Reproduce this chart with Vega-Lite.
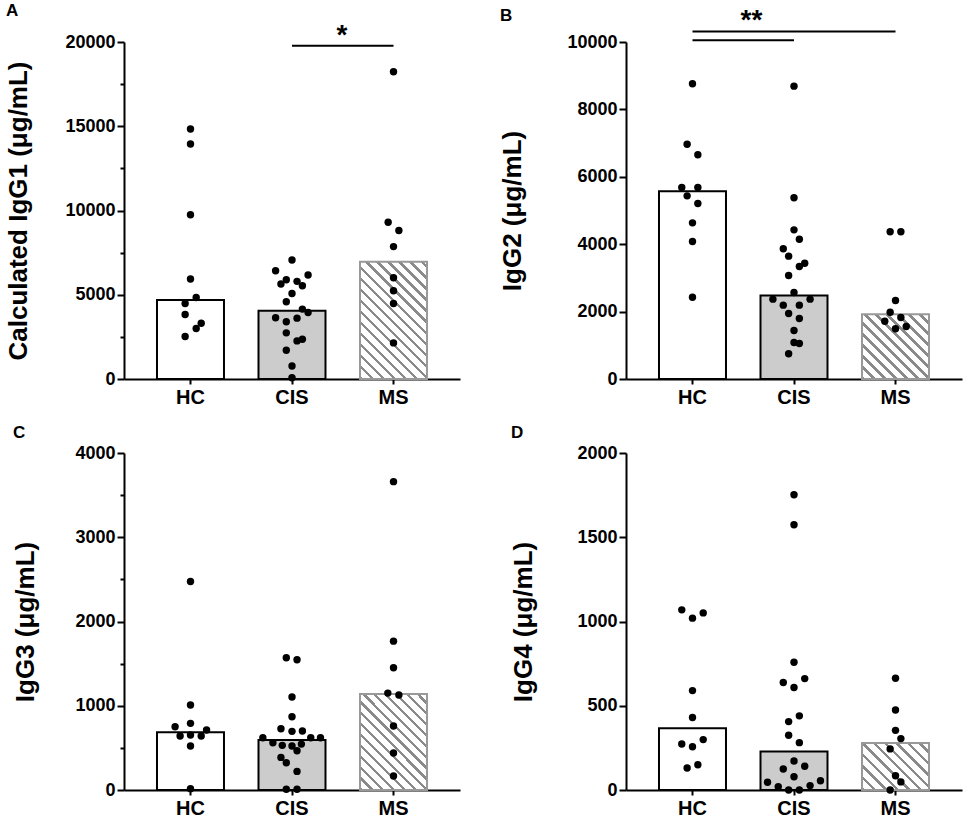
{
  "$schema": "https://vega.github.io/schema/vega-lite/v6.json",
  "background": "white",
  "padding": {"left": 5, "top": 1, "right": 5, "bottom": 0},
  "datasets": {
    "points": [
      {"panel":"A","group":"HC","value":14839,"jit":0},
      {"panel":"A","group":"HC","value":13946,"jit":0},
      {"panel":"A","group":"HC","value":9744,"jit":0},
      {"panel":"A","group":"HC","value":5933,"jit":0},
      {"panel":"A","group":"HC","value":4841,"jit":0.17},
      {"panel":"A","group":"HC","value":4484,"jit":-0.16},
      {"panel":"A","group":"HC","value":3829,"jit":-0.16},
      {"panel":"A","group":"HC","value":3313,"jit":0.32},
      {"panel":"A","group":"HC","value":2996,"jit":0.17},
      {"panel":"A","group":"HC","value":2520,"jit":-0.16},
      {"panel":"A","group":"CIS","value":7063,"jit":0},
      {"panel":"A","group":"CIS","value":6429,"jit":-0.49},
      {"panel":"A","group":"CIS","value":6171,"jit":0.48},
      {"panel":"A","group":"CIS","value":5893,"jit":-0.17},
      {"panel":"A","group":"CIS","value":5635,"jit":-0.33},
      {"panel":"A","group":"CIS","value":5794,"jit":0.15},
      {"panel":"A","group":"CIS","value":5536,"jit":0.31},
      {"panel":"A","group":"CIS","value":5079,"jit":0},
      {"panel":"A","group":"CIS","value":4583,"jit":-0.17},
      {"panel":"A","group":"CIS","value":4147,"jit":0.31},
      {"panel":"A","group":"CIS","value":3948,"jit":0.48},
      {"panel":"A","group":"CIS","value":3631,"jit":-0.49},
      {"panel":"A","group":"CIS","value":3611,"jit":0.15},
      {"panel":"A","group":"CIS","value":3393,"jit":-0.17},
      {"panel":"A","group":"CIS","value":2738,"jit":-0.17},
      {"panel":"A","group":"CIS","value":2361,"jit":0.31},
      {"panel":"A","group":"CIS","value":2262,"jit":0.15},
      {"panel":"A","group":"CIS","value":1706,"jit":-0.17},
      {"panel":"A","group":"CIS","value":774,"jit":0},
      {"panel":"A","group":"CIS","value":79,"jit":0},
      {"panel":"A","group":"MS","value":18234,"jit":0},
      {"panel":"A","group":"MS","value":9306,"jit":-0.16},
      {"panel":"A","group":"MS","value":8810,"jit":0.16},
      {"panel":"A","group":"MS","value":7857,"jit":0},
      {"panel":"A","group":"MS","value":6012,"jit":0},
      {"panel":"A","group":"MS","value":5238,"jit":0},
      {"panel":"A","group":"MS","value":4484,"jit":0},
      {"panel":"A","group":"MS","value":2143,"jit":0},
      {"panel":"B","group":"HC","value":8759,"jit":0},
      {"panel":"B","group":"HC","value":6968,"jit":-0.16},
      {"panel":"B","group":"HC","value":6652,"jit":0.16},
      {"panel":"B","group":"HC","value":5682,"jit":-0.32},
      {"panel":"B","group":"HC","value":5682,"jit":0.16},
      {"panel":"B","group":"HC","value":5435,"jit":-0.16},
      {"panel":"B","group":"HC","value":5208,"jit":0.16},
      {"panel":"B","group":"HC","value":4634,"jit":0},
      {"panel":"B","group":"HC","value":4080,"jit":0},
      {"panel":"B","group":"HC","value":2428,"jit":0},
      {"panel":"B","group":"CIS","value":8690,"jit":0},
      {"panel":"B","group":"CIS","value":5376,"jit":0},
      {"panel":"B","group":"CIS","value":4426,"jit":0},
      {"panel":"B","group":"CIS","value":4149,"jit":0.16},
      {"panel":"B","group":"CIS","value":3863,"jit":-0.32},
      {"panel":"B","group":"CIS","value":3645,"jit":-0.16},
      {"panel":"B","group":"CIS","value":3437,"jit":0.32},
      {"panel":"B","group":"CIS","value":3338,"jit":0.16},
      {"panel":"B","group":"CIS","value":3071,"jit":-0.16},
      {"panel":"B","group":"CIS","value":2567,"jit":0},
      {"panel":"B","group":"CIS","value":2369,"jit":-0.63},
      {"panel":"B","group":"CIS","value":2369,"jit":0.48},
      {"panel":"B","group":"CIS","value":2191,"jit":-0.32},
      {"panel":"B","group":"CIS","value":2191,"jit":0.16},
      {"panel":"B","group":"CIS","value":1944,"jit":-0.16},
      {"panel":"B","group":"CIS","value":1795,"jit":0.16},
      {"panel":"B","group":"CIS","value":1439,"jit":0},
      {"panel":"B","group":"CIS","value":1083,"jit":0},
      {"panel":"B","group":"CIS","value":1053,"jit":0.16},
      {"panel":"B","group":"CIS","value":747,"jit":-0.16},
      {"panel":"B","group":"MS","value":4367,"jit":-0.16},
      {"panel":"B","group":"MS","value":4367,"jit":0.16},
      {"panel":"B","group":"MS","value":2329,"jit":0},
      {"panel":"B","group":"MS","value":1983,"jit":-0.16},
      {"panel":"B","group":"MS","value":1825,"jit":0.16},
      {"panel":"B","group":"MS","value":1716,"jit":-0.32},
      {"panel":"B","group":"MS","value":1558,"jit":0.32},
      {"panel":"B","group":"MS","value":1489,"jit":0},
      {"panel":"C","group":"HC","value":2475,"jit":0},
      {"panel":"C","group":"HC","value":1008,"jit":0},
      {"panel":"C","group":"HC","value":751,"jit":-0.46},
      {"panel":"C","group":"HC","value":791,"jit":0},
      {"panel":"C","group":"HC","value":712,"jit":0.48},
      {"panel":"C","group":"HC","value":640,"jit":-0.31},
      {"panel":"C","group":"HC","value":652,"jit":0},
      {"panel":"C","group":"HC","value":640,"jit":0.32},
      {"panel":"C","group":"HC","value":522,"jit":0},
      {"panel":"C","group":"HC","value":16,"jit":0},
      {"panel":"C","group":"CIS","value":1569,"jit":-0.17},
      {"panel":"C","group":"CIS","value":1546,"jit":0.15},
      {"panel":"C","group":"CIS","value":1103,"jit":0},
      {"panel":"C","group":"CIS","value":870,"jit":0},
      {"panel":"C","group":"CIS","value":727,"jit":-0.33},
      {"panel":"C","group":"CIS","value":696,"jit":0},
      {"panel":"C","group":"CIS","value":700,"jit":0.31},
      {"panel":"C","group":"CIS","value":621,"jit":-0.87},
      {"panel":"C","group":"CIS","value":621,"jit":0.56},
      {"panel":"C","group":"CIS","value":621,"jit":0.85},
      {"panel":"C","group":"CIS","value":561,"jit":-0.57},
      {"panel":"C","group":"CIS","value":530,"jit":-0.29},
      {"panel":"C","group":"CIS","value":522,"jit":0},
      {"panel":"C","group":"CIS","value":545,"jit":0.28},
      {"panel":"C","group":"CIS","value":466,"jit":0.15},
      {"panel":"C","group":"CIS","value":387,"jit":-0.33},
      {"panel":"C","group":"CIS","value":324,"jit":-0.17},
      {"panel":"C","group":"CIS","value":221,"jit":0.15},
      {"panel":"C","group":"CIS","value":8,"jit":-0.17},
      {"panel":"C","group":"CIS","value":8,"jit":0.15},
      {"panel":"C","group":"MS","value":3660,"jit":0},
      {"panel":"C","group":"MS","value":1767,"jit":0},
      {"panel":"C","group":"MS","value":1451,"jit":0},
      {"panel":"C","group":"MS","value":1150,"jit":-0.17},
      {"panel":"C","group":"MS","value":1127,"jit":0.16},
      {"panel":"C","group":"MS","value":759,"jit":0},
      {"panel":"C","group":"MS","value":439,"jit":0},
      {"panel":"C","group":"MS","value":166,"jit":0},
      {"panel":"D","group":"HC","value":1069,"jit":-0.32},
      {"panel":"D","group":"HC","value":1020,"jit":0},
      {"panel":"D","group":"HC","value":1051,"jit":0.32},
      {"panel":"D","group":"HC","value":590,"jit":0},
      {"panel":"D","group":"HC","value":430,"jit":0},
      {"panel":"D","group":"HC","value":273,"jit":-0.32},
      {"panel":"D","group":"HC","value":257,"jit":0},
      {"panel":"D","group":"HC","value":299,"jit":0.32},
      {"panel":"D","group":"HC","value":131,"jit":-0.16},
      {"panel":"D","group":"HC","value":150,"jit":0.16},
      {"panel":"D","group":"CIS","value":1752,"jit":0},
      {"panel":"D","group":"CIS","value":1574,"jit":0},
      {"panel":"D","group":"CIS","value":758,"jit":0},
      {"panel":"D","group":"CIS","value":638,"jit":-0.32},
      {"panel":"D","group":"CIS","value":661,"jit":0.32},
      {"panel":"D","group":"CIS","value":608,"jit":0},
      {"panel":"D","group":"CIS","value":440,"jit":0.16},
      {"panel":"D","group":"CIS","value":406,"jit":-0.16},
      {"panel":"D","group":"CIS","value":325,"jit":-0.16},
      {"panel":"D","group":"CIS","value":281,"jit":0.16},
      {"panel":"D","group":"CIS","value":172,"jit":0},
      {"panel":"D","group":"CIS","value":125,"jit":-0.32},
      {"panel":"D","group":"CIS","value":141,"jit":0.32},
      {"panel":"D","group":"CIS","value":79,"jit":0},
      {"panel":"D","group":"CIS","value":46,"jit":-0.79},
      {"panel":"D","group":"CIS","value":55,"jit":0.79},
      {"panel":"D","group":"CIS","value":20,"jit":-0.47},
      {"panel":"D","group":"CIS","value":26,"jit":0.48},
      {"panel":"D","group":"CIS","value":0,"jit":-0.16},
      {"panel":"D","group":"CIS","value":0,"jit":0.16},
      {"panel":"D","group":"MS","value":663,"jit":0},
      {"panel":"D","group":"MS","value":475,"jit":0},
      {"panel":"D","group":"MS","value":354,"jit":0},
      {"panel":"D","group":"MS","value":305,"jit":0.16},
      {"panel":"D","group":"MS","value":244,"jit":-0.16},
      {"panel":"D","group":"MS","value":85,"jit":0},
      {"panel":"D","group":"MS","value":48,"jit":0.16},
      {"panel":"D","group":"MS","value":0,"jit":-0.16}
    ],
    "bars": [
      {"panel":"A","group":"HC","value":4683},
      {"panel":"A","group":"CIS","value":4048},
      {"panel":"A","group":"MS","value":6964},
      {"panel":"B","group":"HC","value":5574},
      {"panel":"B","group":"CIS","value":2478},
      {"panel":"B","group":"MS","value":1924},
      {"panel":"C","group":"HC","value":684},
      {"panel":"C","group":"CIS","value":593},
      {"panel":"C","group":"MS","value":1138},
      {"panel":"D","group":"HC","value":366},
      {"panel":"D","group":"CIS","value":228},
      {"panel":"D","group":"MS","value":279}
    ]
  },
  "columns": 2,
  "spacing": {"row": 17, "column": 39},
  "concat": [
    {
      "title": {"text": "A"},
      "width": 336, "height": 337,
      "resolve": {"scale": {"xOffset": "independent"}},
      "layer": [
        {
          "data": {"name": "bars"},
          "transform": [{"filter": "datum.panel === 'A' && datum.group !== 'MS'"}],
          "mark": {"type": "bar", "stroke": "black", "strokeWidth": 2},
          "encoding": {
            "x": {"field": "group", "type": "nominal", "scale": {"domain": ["HC","CIS","MS"], "paddingInner": 0.34, "paddingOuter": 0.325}, "axis": {"title": null, "labelAngle": 0}},
            "y": {"field": "value", "type": "quantitative", "scale": {"domain": [0, 20000], "nice": false}, "axis": {"title": "Calculated IgG1 (μg/mL)", "titlePadding": 33, "values": [0,2500,5000,7500,10000,12500,15000,17500,20000], "format": "d", "labelExpr": "datum.value % 5000 === 0 ? datum.label : ''", "tickSize": {"condition": {"test": "datum.value % 5000 !== 0", "value": 4}, "value": 7}}},
            "fill": {"field": "group", "type": "nominal", "scale": {"domain": ["HC","CIS"], "range": ["#ffffff","#cccccc"]}, "legend": null}
          }
        },
        {
          "data": {"name": "bars"},
          "transform": [{"filter": "datum.panel === 'A' && datum.group === 'MS'"}],
          "mark": {"type": "bar", "stroke": "#999999", "strokeWidth": 2, "fill": {"gradient": "linear", "x1": 0, "y1": 1, "x2": 0.677, "y2": -0.185, "stops": [
            {"offset":0,"color":"#8a8a8a"},{"offset":0.018,"color":"#8a8a8a"},{"offset":0.018,"color":"#ffffff"},{"offset":0.06,"color":"#ffffff"},
            {"offset":0.06,"color":"#8a8a8a"},{"offset":0.078,"color":"#8a8a8a"},{"offset":0.078,"color":"#ffffff"},{"offset":0.12,"color":"#ffffff"},
            {"offset":0.12,"color":"#8a8a8a"},{"offset":0.138,"color":"#8a8a8a"},{"offset":0.138,"color":"#ffffff"},{"offset":0.18,"color":"#ffffff"},
            {"offset":0.18,"color":"#8a8a8a"},{"offset":0.198,"color":"#8a8a8a"},{"offset":0.198,"color":"#ffffff"},{"offset":0.24,"color":"#ffffff"},
            {"offset":0.24,"color":"#8a8a8a"},{"offset":0.258,"color":"#8a8a8a"},{"offset":0.258,"color":"#ffffff"},{"offset":0.30,"color":"#ffffff"},
            {"offset":0.30,"color":"#8a8a8a"},{"offset":0.318,"color":"#8a8a8a"},{"offset":0.318,"color":"#ffffff"},{"offset":0.36,"color":"#ffffff"},
            {"offset":0.36,"color":"#8a8a8a"},{"offset":0.378,"color":"#8a8a8a"},{"offset":0.378,"color":"#ffffff"},{"offset":0.42,"color":"#ffffff"},
            {"offset":0.42,"color":"#8a8a8a"},{"offset":0.438,"color":"#8a8a8a"},{"offset":0.438,"color":"#ffffff"},{"offset":0.48,"color":"#ffffff"},
            {"offset":0.48,"color":"#8a8a8a"},{"offset":0.498,"color":"#8a8a8a"},{"offset":0.498,"color":"#ffffff"},{"offset":0.54,"color":"#ffffff"},
            {"offset":0.54,"color":"#8a8a8a"},{"offset":0.558,"color":"#8a8a8a"},{"offset":0.558,"color":"#ffffff"},{"offset":0.60,"color":"#ffffff"},
            {"offset":0.60,"color":"#8a8a8a"},{"offset":0.618,"color":"#8a8a8a"},{"offset":0.618,"color":"#ffffff"},{"offset":0.66,"color":"#ffffff"},
            {"offset":0.66,"color":"#8a8a8a"},{"offset":0.678,"color":"#8a8a8a"},{"offset":0.678,"color":"#ffffff"},{"offset":0.72,"color":"#ffffff"},
            {"offset":0.72,"color":"#8a8a8a"},{"offset":0.738,"color":"#8a8a8a"},{"offset":0.738,"color":"#ffffff"},{"offset":0.78,"color":"#ffffff"},
            {"offset":0.78,"color":"#8a8a8a"},{"offset":0.798,"color":"#8a8a8a"},{"offset":0.798,"color":"#ffffff"},{"offset":0.84,"color":"#ffffff"},
            {"offset":0.84,"color":"#8a8a8a"},{"offset":0.858,"color":"#8a8a8a"},{"offset":0.858,"color":"#ffffff"},{"offset":0.90,"color":"#ffffff"},
            {"offset":0.90,"color":"#8a8a8a"},{"offset":0.918,"color":"#8a8a8a"},{"offset":0.918,"color":"#ffffff"},{"offset":0.96,"color":"#ffffff"},
            {"offset":0.96,"color":"#8a8a8a"},{"offset":0.978,"color":"#8a8a8a"},{"offset":0.978,"color":"#ffffff"},{"offset":1,"color":"#ffffff"}
          ]}},
          "encoding": {
            "x": {"field": "group", "type": "nominal", "title": null},
            "y": {"field": "value", "type": "quantitative"}
          }
        },
        {
          "data": {"name": "points"},
          "transform": [{"filter": "datum.panel === 'A'"}],
          "mark": {"type": "circle", "size": 55, "color": "black", "opacity": 1},
          "encoding": {
            "x": {"field": "group", "type": "nominal", "title": null},
            "xOffset": {"field": "jit", "type": "quantitative", "scale": {"domain": [-1, 1]}},
            "y": {"field": "value", "type": "quantitative"}
          }
        },
        {
          "data": {"values": [{"from": "CIS", "to": "MS", "value": 19780}]},
          "mark": {"type": "rule", "strokeWidth": 2, "color": "black"},
          "encoding": {
            "x": {"field": "from", "type": "nominal", "title": null},
            "x2": {"field": "to"},
            "y": {"field": "value", "type": "quantitative"}
          }
        },
        {
          "data": {"values": [{"at": "CIS", "value": 19780, "label": "*"}]},
          "mark": {"type": "text", "dx": 50, "dy": -2, "fontSize": 28, "fontWeight": "bold", "font": "Liberation Sans", "baseline": "alphabetic", "color": "black"},
          "encoding": {
            "x": {"field": "at", "type": "nominal", "title": null},
            "y": {"field": "value", "type": "quantitative"},
            "text": {"field": "label"}
          }
        }
      ]
    },
    {
      "title": {"text": "B", "offset": -18},
      "width": 336, "height": 337,
      "resolve": {"scale": {"xOffset": "independent"}},
      "layer": [
        {
          "data": {"name": "bars"},
          "transform": [{"filter": "datum.panel === 'B' && datum.group !== 'MS'"}],
          "mark": {"type": "bar", "stroke": "black", "strokeWidth": 2},
          "encoding": {
            "x": {"field": "group", "type": "nominal", "scale": {"domain": ["HC","CIS","MS"], "paddingInner": 0.34, "paddingOuter": 0.325}, "axis": {"title": null, "labelAngle": 0}},
            "y": {"field": "value", "type": "quantitative", "scale": {"domain": [0, 10000], "nice": false}, "axis": {"title": "IgG2 (μg/mL)", "titlePadding": 41, "values": [0,1000,2000,3000,4000,5000,6000,7000,8000,9000,10000], "format": "d", "labelExpr": "datum.value % 2000 === 0 ? datum.label : ''", "tickSize": {"condition": {"test": "datum.value % 2000 !== 0", "value": 4}, "value": 7}}},
            "fill": {"field": "group", "type": "nominal", "scale": {"domain": ["HC","CIS"], "range": ["#ffffff","#cccccc"]}, "legend": null}
          }
        },
        {
          "data": {"name": "bars"},
          "transform": [{"filter": "datum.panel === 'B' && datum.group === 'MS'"}],
          "mark": {"type": "bar", "stroke": "#999999", "strokeWidth": 2, "fill": {"gradient": "linear", "x1": 0, "y1": 1, "x2": 1.016, "y2": 0.017, "stops": [
            {"offset":0,"color":"#8a8a8a"},{"offset":0.025,"color":"#8a8a8a"},{"offset":0.025,"color":"#ffffff"},{"offset":0.0833,"color":"#ffffff"},
            {"offset":0.0833,"color":"#8a8a8a"},{"offset":0.1083,"color":"#8a8a8a"},{"offset":0.1083,"color":"#ffffff"},{"offset":0.1667,"color":"#ffffff"},
            {"offset":0.1667,"color":"#8a8a8a"},{"offset":0.1917,"color":"#8a8a8a"},{"offset":0.1917,"color":"#ffffff"},{"offset":0.25,"color":"#ffffff"},
            {"offset":0.25,"color":"#8a8a8a"},{"offset":0.275,"color":"#8a8a8a"},{"offset":0.275,"color":"#ffffff"},{"offset":0.3333,"color":"#ffffff"},
            {"offset":0.3333,"color":"#8a8a8a"},{"offset":0.3583,"color":"#8a8a8a"},{"offset":0.3583,"color":"#ffffff"},{"offset":0.4167,"color":"#ffffff"},
            {"offset":0.4167,"color":"#8a8a8a"},{"offset":0.4417,"color":"#8a8a8a"},{"offset":0.4417,"color":"#ffffff"},{"offset":0.5,"color":"#ffffff"},
            {"offset":0.5,"color":"#8a8a8a"},{"offset":0.525,"color":"#8a8a8a"},{"offset":0.525,"color":"#ffffff"},{"offset":0.5833,"color":"#ffffff"},
            {"offset":0.5833,"color":"#8a8a8a"},{"offset":0.6083,"color":"#8a8a8a"},{"offset":0.6083,"color":"#ffffff"},{"offset":0.6667,"color":"#ffffff"},
            {"offset":0.6667,"color":"#8a8a8a"},{"offset":0.6917,"color":"#8a8a8a"},{"offset":0.6917,"color":"#ffffff"},{"offset":0.75,"color":"#ffffff"},
            {"offset":0.75,"color":"#8a8a8a"},{"offset":0.775,"color":"#8a8a8a"},{"offset":0.775,"color":"#ffffff"},{"offset":0.8333,"color":"#ffffff"},
            {"offset":0.8333,"color":"#8a8a8a"},{"offset":0.8583,"color":"#8a8a8a"},{"offset":0.8583,"color":"#ffffff"},{"offset":0.9167,"color":"#ffffff"},
            {"offset":0.9167,"color":"#8a8a8a"},{"offset":0.9417,"color":"#8a8a8a"},{"offset":0.9417,"color":"#ffffff"},{"offset":1,"color":"#ffffff"}
          ]}},
          "encoding": {
            "x": {"field": "group", "type": "nominal", "title": null},
            "y": {"field": "value", "type": "quantitative"}
          }
        },
        {
          "data": {"name": "points"},
          "transform": [{"filter": "datum.panel === 'B'"}],
          "mark": {"type": "circle", "size": 55, "color": "black", "opacity": 1},
          "encoding": {
            "x": {"field": "group", "type": "nominal", "title": null},
            "xOffset": {"field": "jit", "type": "quantitative", "scale": {"domain": [-1, 1]}},
            "y": {"field": "value", "type": "quantitative"}
          }
        },
        {
          "data": {"values": [{"from": "HC", "to": "MS", "value": 10312}, {"from": "HC", "to": "CIS", "value": 10053}]},
          "mark": {"type": "rule", "strokeWidth": 2, "color": "black"},
          "encoding": {
            "x": {"field": "from", "type": "nominal", "title": null},
            "x2": {"field": "to"},
            "y": {"field": "value", "type": "quantitative"}
          }
        },
        {
          "data": {"values": [{"at": "HC", "value": 10312, "label": "**"}]},
          "mark": {"type": "text", "dx": 59, "dy": -2, "fontSize": 28, "fontWeight": "bold", "font": "Liberation Sans", "baseline": "alphabetic", "color": "black"},
          "encoding": {
            "x": {"field": "at", "type": "nominal", "title": null},
            "y": {"field": "value", "type": "quantitative"},
            "text": {"field": "label"}
          }
        }
      ]
    },
    {
      "title": {"text": "C"},
      "width": 336, "height": 337,
      "resolve": {"scale": {"xOffset": "independent"}},
      "layer": [
        {
          "data": {"name": "bars"},
          "transform": [{"filter": "datum.panel === 'C' && datum.group !== 'MS'"}],
          "mark": {"type": "bar", "stroke": "black", "strokeWidth": 2},
          "encoding": {
            "x": {"field": "group", "type": "nominal", "scale": {"domain": ["HC","CIS","MS"], "paddingInner": 0.34, "paddingOuter": 0.325}, "axis": {"title": null, "labelAngle": 0}},
            "y": {"field": "value", "type": "quantitative", "scale": {"domain": [0, 4000], "nice": false}, "axis": {"title": "IgG3 (μg/mL)", "titlePadding": 36, "values": [0,500,1000,1500,2000,2500,3000,3500,4000], "format": "d", "labelExpr": "datum.value % 1000 === 0 ? datum.label : ''", "tickSize": {"condition": {"test": "datum.value % 1000 !== 0", "value": 4}, "value": 7}}},
            "fill": {"field": "group", "type": "nominal", "scale": {"domain": ["HC","CIS"], "range": ["#ffffff","#cccccc"]}, "legend": null}
          }
        },
        {
          "data": {"name": "bars"},
          "transform": [{"filter": "datum.panel === 'C' && datum.group === 'MS'"}],
          "mark": {"type": "bar", "stroke": "#999999", "strokeWidth": 2, "fill": {"gradient": "linear", "x1": 0, "y1": 1, "x2": 0.798, "y2": -0.141, "stops": [
            {"offset":0,"color":"#8a8a8a"},{"offset":0.02,"color":"#8a8a8a"},{"offset":0.02,"color":"#ffffff"},{"offset":0.0667,"color":"#ffffff"},
            {"offset":0.0667,"color":"#8a8a8a"},{"offset":0.0867,"color":"#8a8a8a"},{"offset":0.0867,"color":"#ffffff"},{"offset":0.1333,"color":"#ffffff"},
            {"offset":0.1333,"color":"#8a8a8a"},{"offset":0.1533,"color":"#8a8a8a"},{"offset":0.1533,"color":"#ffffff"},{"offset":0.2,"color":"#ffffff"},
            {"offset":0.2,"color":"#8a8a8a"},{"offset":0.22,"color":"#8a8a8a"},{"offset":0.22,"color":"#ffffff"},{"offset":0.2667,"color":"#ffffff"},
            {"offset":0.2667,"color":"#8a8a8a"},{"offset":0.2867,"color":"#8a8a8a"},{"offset":0.2867,"color":"#ffffff"},{"offset":0.3333,"color":"#ffffff"},
            {"offset":0.3333,"color":"#8a8a8a"},{"offset":0.3533,"color":"#8a8a8a"},{"offset":0.3533,"color":"#ffffff"},{"offset":0.4,"color":"#ffffff"},
            {"offset":0.4,"color":"#8a8a8a"},{"offset":0.42,"color":"#8a8a8a"},{"offset":0.42,"color":"#ffffff"},{"offset":0.4667,"color":"#ffffff"},
            {"offset":0.4667,"color":"#8a8a8a"},{"offset":0.4867,"color":"#8a8a8a"},{"offset":0.4867,"color":"#ffffff"},{"offset":0.5333,"color":"#ffffff"},
            {"offset":0.5333,"color":"#8a8a8a"},{"offset":0.5533,"color":"#8a8a8a"},{"offset":0.5533,"color":"#ffffff"},{"offset":0.6,"color":"#ffffff"},
            {"offset":0.6,"color":"#8a8a8a"},{"offset":0.62,"color":"#8a8a8a"},{"offset":0.62,"color":"#ffffff"},{"offset":0.6667,"color":"#ffffff"},
            {"offset":0.6667,"color":"#8a8a8a"},{"offset":0.6867,"color":"#8a8a8a"},{"offset":0.6867,"color":"#ffffff"},{"offset":0.7333,"color":"#ffffff"},
            {"offset":0.7333,"color":"#8a8a8a"},{"offset":0.7533,"color":"#8a8a8a"},{"offset":0.7533,"color":"#ffffff"},{"offset":0.8,"color":"#ffffff"},
            {"offset":0.8,"color":"#8a8a8a"},{"offset":0.82,"color":"#8a8a8a"},{"offset":0.82,"color":"#ffffff"},{"offset":0.8667,"color":"#ffffff"},
            {"offset":0.8667,"color":"#8a8a8a"},{"offset":0.8867,"color":"#8a8a8a"},{"offset":0.8867,"color":"#ffffff"},{"offset":0.9333,"color":"#ffffff"},
            {"offset":0.9333,"color":"#8a8a8a"},{"offset":0.9533,"color":"#8a8a8a"},{"offset":0.9533,"color":"#ffffff"},{"offset":1,"color":"#ffffff"}
          ]}},
          "encoding": {
            "x": {"field": "group", "type": "nominal", "title": null},
            "y": {"field": "value", "type": "quantitative"}
          }
        },
        {
          "data": {"name": "points"},
          "transform": [{"filter": "datum.panel === 'C'"}],
          "mark": {"type": "circle", "size": 55, "color": "black", "opacity": 1},
          "encoding": {
            "x": {"field": "group", "type": "nominal", "title": null},
            "xOffset": {"field": "jit", "type": "quantitative", "scale": {"domain": [-1, 1]}},
            "y": {"field": "value", "type": "quantitative"}
          }
        }
      ]
    },
    {
      "title": {"text": "D"},
      "width": 336, "height": 337,
      "resolve": {"scale": {"xOffset": "independent"}},
      "layer": [
        {
          "data": {"name": "bars"},
          "transform": [{"filter": "datum.panel === 'D' && datum.group !== 'MS'"}],
          "mark": {"type": "bar", "stroke": "black", "strokeWidth": 2},
          "encoding": {
            "x": {"field": "group", "type": "nominal", "scale": {"domain": ["HC","CIS","MS"], "paddingInner": 0.34, "paddingOuter": 0.325}, "axis": {"title": null, "labelAngle": 0}},
            "y": {"field": "value", "type": "quantitative", "scale": {"domain": [0, 2000], "nice": false}, "axis": {"title": "IgG4 (μg/mL)", "titlePadding": 40, "values": [0,500,1000,1500,2000], "format": "d", "tickSize": 7}},
            "fill": {"field": "group", "type": "nominal", "scale": {"domain": ["HC","CIS"], "range": ["#ffffff","#cccccc"]}, "legend": null}
          }
        },
        {
          "data": {"name": "bars"},
          "transform": [{"filter": "datum.panel === 'D' && datum.group === 'MS'"}],
          "mark": {"type": "bar", "stroke": "#999999", "strokeWidth": 2, "fill": {"gradient": "linear", "x1": 0, "y1": 1, "x2": 1.14, "y2": 0.2, "stops": [
            {"offset":0,"color":"#8a8a8a"},{"offset":0.03,"color":"#8a8a8a"},{"offset":0.03,"color":"#ffffff"},{"offset":0.1,"color":"#ffffff"},
            {"offset":0.1,"color":"#8a8a8a"},{"offset":0.13,"color":"#8a8a8a"},{"offset":0.13,"color":"#ffffff"},{"offset":0.2,"color":"#ffffff"},
            {"offset":0.2,"color":"#8a8a8a"},{"offset":0.23,"color":"#8a8a8a"},{"offset":0.23,"color":"#ffffff"},{"offset":0.3,"color":"#ffffff"},
            {"offset":0.3,"color":"#8a8a8a"},{"offset":0.33,"color":"#8a8a8a"},{"offset":0.33,"color":"#ffffff"},{"offset":0.4,"color":"#ffffff"},
            {"offset":0.4,"color":"#8a8a8a"},{"offset":0.43,"color":"#8a8a8a"},{"offset":0.43,"color":"#ffffff"},{"offset":0.5,"color":"#ffffff"},
            {"offset":0.5,"color":"#8a8a8a"},{"offset":0.53,"color":"#8a8a8a"},{"offset":0.53,"color":"#ffffff"},{"offset":0.6,"color":"#ffffff"},
            {"offset":0.6,"color":"#8a8a8a"},{"offset":0.63,"color":"#8a8a8a"},{"offset":0.63,"color":"#ffffff"},{"offset":0.7,"color":"#ffffff"},
            {"offset":0.7,"color":"#8a8a8a"},{"offset":0.73,"color":"#8a8a8a"},{"offset":0.73,"color":"#ffffff"},{"offset":0.8,"color":"#ffffff"},
            {"offset":0.8,"color":"#8a8a8a"},{"offset":0.83,"color":"#8a8a8a"},{"offset":0.83,"color":"#ffffff"},{"offset":0.9,"color":"#ffffff"},
            {"offset":0.9,"color":"#8a8a8a"},{"offset":0.93,"color":"#8a8a8a"},{"offset":0.93,"color":"#ffffff"},{"offset":1,"color":"#ffffff"}
          ]}},
          "encoding": {
            "x": {"field": "group", "type": "nominal", "title": null},
            "y": {"field": "value", "type": "quantitative"}
          }
        },
        {
          "data": {"name": "points"},
          "transform": [{"filter": "datum.panel === 'D'"}],
          "mark": {"type": "circle", "size": 55, "color": "black", "opacity": 1},
          "encoding": {
            "x": {"field": "group", "type": "nominal", "title": null},
            "xOffset": {"field": "jit", "type": "quantitative", "scale": {"domain": [-1, 1]}},
            "y": {"field": "value", "type": "quantitative"}
          }
        }
      ]
    }
  ],
  "config": {
    "view": {"stroke": null},
    "font": "Liberation Sans",
    "title": {"anchor": "start", "fontSize": 17, "fontWeight": "bold", "font": "Liberation Sans", "color": "black", "offset": 2},
    "axis": {
      "domainColor": "black", "domainWidth": 2, "tickColor": "black", "tickWidth": 2, "grid": false,
      "labelColor": "black", "labelFont": "Liberation Sans", "labelFontWeight": "bold", "labelOverlap": false,
      "titleColor": "black", "titleFont": "Liberation Sans", "titleFontWeight": "bold", "titleFontSize": 26
    },
    "axisX": {"labelFontSize": 20, "tickSize": 5, "labelPadding": 3},
    "axisY": {"labelFontSize": 18, "labelPadding": 2}
  }
}
